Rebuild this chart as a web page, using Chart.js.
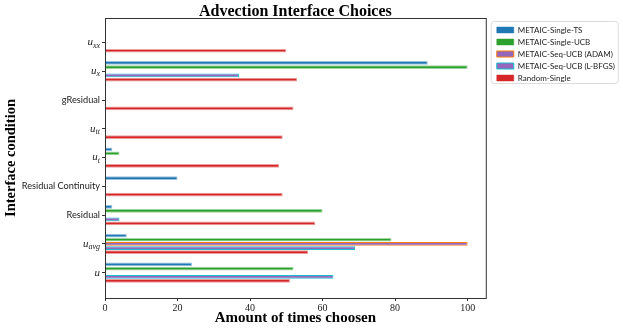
<!DOCTYPE html>
<html>
<head>
<meta charset="utf-8">
<script src="https://cdn.jsdelivr.net/npm/chart.js@4/dist/chart.umd.min.js"></script>
<style>
  html, body { margin: 0; padding: 0; background: #fff; }
  #wrap { width: 623px; height: 331px; }
</style>
</head>
<body>
<div id="wrap"><canvas id="graph"></canvas></div>
<script>
// categories from top to bottom
const categories = ["u_xx", "u_x", "gResidual", "u_tt", "u_t", "Residual Continuity", "Residual", "u_avg", "u"];
const singleTS = [0, 89, 0, 0, 2, 20, 2, 6, 24];
const singleUCB = [0, 100, 0, 0, 4, 0, 60, 79, 52];
const seqAdam = [0, 0, 0, 0, 0, 0, 0, 100, 0];
const seqLbfgs = [0, 37, 0, 0, 0, 0, 4, 69, 63];
const randomSingle = [50, 53, 52, 49, 48, 49, 58, 56, 51];
const xTicks = [0, 20, 40, 60, 80, 100];

function toPoints(arr) {
  return arr.map((v, i) => ({ x: v, y: i }));
}

const serif = "'Liberation Serif', serif";
const sans = "Lato, 'DejaVu Sans', sans-serif";

// y tick labels (with subscripts), the frame and the legend border
const extras = {
  id: "extras",
  afterLayout(chart) {
    // legend sits a bit below the top of the plot and a bit off its right edge
    chart.legend.top += 4;
    chart.legend.left += 7;
  },
  beforeDraw(chart) {
    const lg = chart.legend;
    const ctx = chart.ctx;
    const items = lg.legendItems.length;
    const l = lg.left + 4 - 5.5;
    const t = lg.top + 4 - 4.5;
    ctx.save();
    ctx.fillStyle = "#fff";
    ctx.strokeStyle = "#dcdcdc";
    ctx.lineWidth = 1;
    ctx.beginPath();
    ctx.roundRect(l, t, 127, items * 12 + 2, 3);
    ctx.fill();
    ctx.stroke();
    ctx.restore();
  },
  afterDraw(chart) {
    const ctx = chart.ctx;
    const area = chart.chartArea;
    const yScale = chart.scales.y;
    ctx.save();
    ctx.fillStyle = "#222";
    ctx.textBaseline = "middle";
    ctx.textAlign = "right";
    categories.forEach((c, i) => {
      const y = yScale.getPixelForValue(i);
      const x = area.left - 5;
      if (c.indexOf("_") > 0) {
        const parts = c.split("_");
        ctx.font = "italic 8px " + serif;
        const subW = ctx.measureText(parts[1]).width;
        ctx.fillText(parts[1], x, y + 3);
        ctx.font = "italic 11px " + serif;
        ctx.fillText(parts[0], x - subW, y);
      } else if (c === "u") {
        ctx.font = "italic 11px " + serif;
        ctx.fillText(c, x, y);
      } else {
        ctx.font = "9.2px " + sans;
        ctx.fillText(c, x, y);
      }
    });
    // frame
    ctx.strokeStyle = "#333";
    ctx.lineWidth = 1;
    ctx.strokeRect(area.left + 0.5, area.top + 0.5, area.right - area.left, area.bottom - area.top);
    ctx.restore();
  },
};

const ctx = document.getElementById("graph").getContext("2d");
const myChart = new Chart(ctx, {
  type: "bar",
  data: {
    datasets: [
      {
        label: "METAIC-Single-TS",
        data: toPoints(singleTS),
        backgroundColor: "#1f77b4",
        borderColor: "rgba(31,119,180,0.45)",
        borderWidth: 1,
      },
      {
        label: "METAIC-Single-UCB",
        data: toPoints(singleUCB),
        backgroundColor: "#2ca02c",
        borderColor: "rgba(44,160,44,0.45)",
        borderWidth: 1,
      },
      {
        label: "METAIC-Seq-UCB (ADAM)",
        data: toPoints(seqAdam),
        backgroundColor: "#9467bd",
        borderColor: "#ff7f0e",
        borderWidth: 1,
      },
      {
        label: "METAIC-Seq-UCB (L-BFGS)",
        data: toPoints(seqLbfgs),
        backgroundColor: "#9467bd",
        borderColor: "#17becf",
        borderWidth: 1,
      },
      {
        label: "Random-Single",
        data: toPoints(randomSingle),
        backgroundColor: "#d62728",
        borderColor: "rgba(214,39,40,0.45)",
        borderWidth: 1,
      },
    ],
  },
  options: {
    responsive: true,
    maintainAspectRatio: false,
    animation: false,
    indexAxis: "y",
    categoryPercentage: 0.72,
    barPercentage: 0.9,
    layout: { padding: { left: 0, right: 5, top: 0, bottom: 0 } },
    plugins: {
      title: {
        display: true,
        fullSize: false,
        text: "Advection Interface Choices",
        color: "#000",
        font: { family: serif, size: 16, weight: "bold", lineHeight: 1 },
        padding: { top: 4, bottom: -2 },
      },
      legend: {
        position: "right",
        align: "start",
        fullSize: false,
        labels: {
          color: "#222",
          font: { family: sans, size: 8 },
          boxWidth: 17,
          boxHeight: 6,
          padding: 4,
        },
      },
      tooltip: { enabled: false },
    },
    scales: {
      x: {
        type: "linear",
        min: 0,
        max: 105,
        afterBuildTicks: (scale) => {
          scale.ticks = xTicks.map((v) => ({ value: v }));
        },
        afterFit: (scale) => {
          scale.height = 33;
        },
        grid: { drawOnChartArea: false, drawTicks: true, tickLength: 3, color: "#333", offset: false },
        border: { color: "#333" },
        ticks: { color: "#222", font: { family: serif, size: 10 }, padding: 1 },
        title: {
          display: true,
          text: "Amount of times choosen",
          color: "#000",
          font: { family: serif, size: 15, weight: "bold", lineHeight: 1.2 },
          padding: { top: 0, bottom: 4 },
        },
      },
      y: {
        type: "linear",
        reverse: true,
        offset: false,
        min: -0.85,
        max: 8.88,
        afterBuildTicks: (scale) => {
          scale.ticks = categories.map((c, i) => ({ value: i }));
        },
        afterFit: (scale) => {
          scale.width = 105;
        },
        grid: { drawOnChartArea: false, drawTicks: true, tickLength: 3, color: "#333", offset: false },
        border: { color: "#333" },
        ticks: { display: false },
        title: {
          display: true,
          text: "Interface condition",
          color: "#000",
          font: { family: serif, size: 14.5, weight: "bold", lineHeight: 1.2 },
          padding: { top: 3, bottom: 0 },
        },
      },
    },
  },
  plugins: [extras],
});
</script>
</body>
</html>
